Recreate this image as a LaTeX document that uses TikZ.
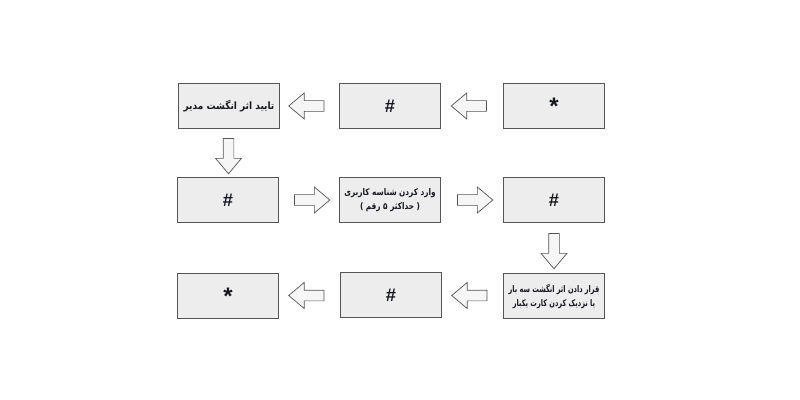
\documentclass[tikz,border=0pt]{standalone}
\usepackage{fontspec}
\usepackage{graphicx}
\setmainfont{Liberation Sans}
\newfontfamily\arabicfont[Script=Arabic]{DejaVu Sans}
\TeXXeTstate=1
\usetikzlibrary{shapes.arrows,calc}
\definecolor{boxgray}{HTML}{EDEDED}
\definecolor{linegray}{HTML}{555555}
\definecolor{inkblue}{HTML}{15181F}
\definecolor{arrowfill}{HTML}{F6F6F6}
% one right-to-left line, squeezed a little sideways
\newcommand{\faline}[2][0.85]{\scalebox{#1}[1]{\beginR #2\endR}}
\newcommand{\bigstar}{\raisebox{-0.35ex}{\fontsize{17}{17}\selectfont *}}
\tikzset{
  box/.style={draw=linegray, fill=boxgray, line width=0.75pt, text=inkblue,
    minimum width=2.52cm, minimum height=1.13cm, inner sep=0pt, align=center},
  sign/.style={font=\bfseries\fontsize{13}{15}\selectfont},
  farsi/.style={font=\arabicfont\bfseries\fontsize{6.5}{10}\selectfont},
  blockarrow/.style={single arrow, draw=linegray, fill=arrowfill, line width=0.5pt,
    minimum height=0.88cm, inner sep=0.125cm, single arrow head extend=0.19cm,
    single arrow tip angle=80}
}
\begin{document}
\begin{tikzpicture}[x=0.025cm,y=-0.025cm]
    \useasboundingbox (0,0) rectangle (800,400);

    % first row, read from right to left
    \node[box,farsi,font=\arabicfont\bfseries\fontsize{7.2}{10}\selectfont] (verify) at (229,106) {\faline[0.89]{تایید اثر انگشت مدیر}};
    \node[box,sign] (hashtop) at (390,106) {\#};
    \node[box,sign] (startstar) at (554,106) {\bigstar};

    % second row
    \node[box,sign] (hashleft) at (228,200) {\#};
    \node[box,farsi] (userid) at (390,200) {\faline[0.8]{وارد کردن شناسه کاربری}\\\faline[0.8]{( حداکثر ۵ رقم )}};
    \node[box,sign] (hashright) at (554,200) {\#};

    % third row
    \node[box,sign] (endstar) at (228,296) {\bigstar};
    \node[box,sign] (hashbottom) at (391,295) {\#};
    \node[box,farsi] (enroll) at (554,296) {\faline[0.72]{قرار دادن اثر انگشت سه بار}\\\faline[0.72]{یا نزدیک کردن کارت یکبار}};

    % block arrows between the boxes
    \node[blockarrow,shape border rotate=180] (a1) at ($(startstar.west)!0.5!(hashtop.east)$) {};
    \node[blockarrow,shape border rotate=180] (a2) at ($(hashtop.west)!0.5!(verify.east)$) {};
    \node[blockarrow,shape border rotate=270] (a3) at ($(verify.south)!0.5!(hashleft.north)$) {};
    \node[blockarrow] (a4) at ($(hashleft.east)!0.5!(userid.west)$) {};
    \node[blockarrow] (a5) at ($(userid.east)!0.5!(hashright.west)$) {};
    \node[blockarrow,shape border rotate=270] (a6) at ($(hashright.south)!0.5!(enroll.north)$) {};
    \node[blockarrow,shape border rotate=180] (a7) at ($(enroll.west)!0.5!(hashbottom.east)$) {};
    \node[blockarrow,shape border rotate=180] (a8) at ($(hashbottom.west)!0.5!(endstar.east)$) {};
\end{tikzpicture}
\end{document}
